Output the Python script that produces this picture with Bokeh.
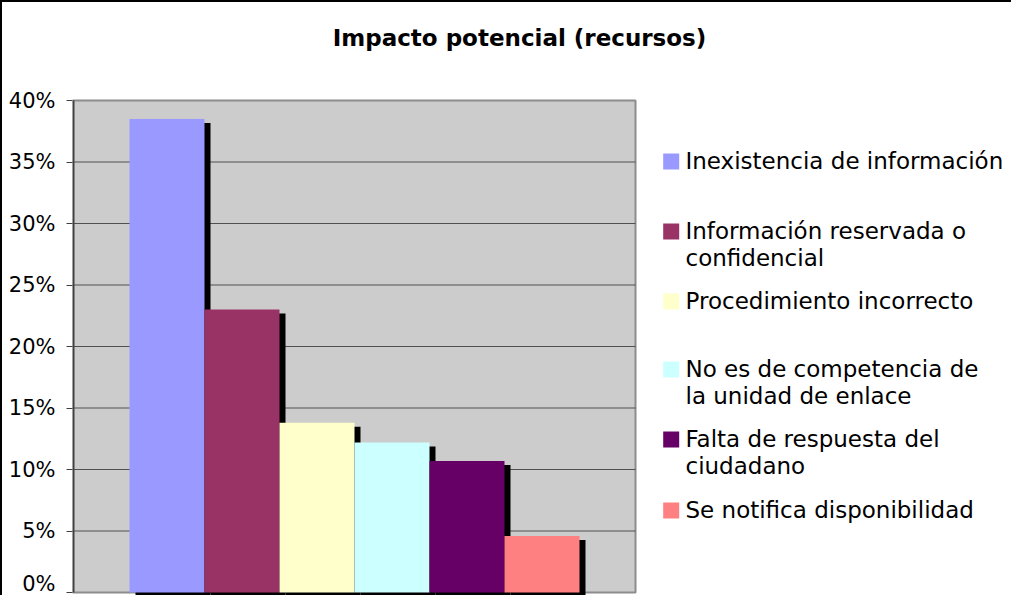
from bokeh.plotting import figure
from bokeh.models import Range1d, FixedTicker
from bokeh.core.properties import value
from bokeh.embed import file_html
from bokeh.resources import INLINE

# ---------------- data ----------------
title_text = "Impacto potencial (recursos)"
categories = [
    "Inexistencia de información",
    "Información reservada o\nconfidencial",
    "Procedimiento incorrecto",
    "No es de competencia de\nla unidad de enlace",
    "Falta de respuesta del\nciudadano",
    "Se notifica disponibilidad",
]
values = [38.5, 23.0, 13.8, 12.2, 10.7, 4.6]  # percent
colors = ["#9999FF", "#993366", "#FFFFCC", "#CCFFFF", "#660066", "#FF8080"]
y_ticks = [0, 5, 10, 15, 20, 25, 30, 35, 40]
y_tick_labels = ["0%", "5%", "10%", "15%", "20%", "25%", "30%", "35%", "40%"]

# ---------------- layout (screen px of the 1029x613 window) ----------------
W, H = 1011, 595            # canvas; it sits at (10,10) after 8px margin + 2px border
FRAME_L = 70                # frame starts at window x=80
PXU = 75.0                  # px per bar slot
PXY = 12.3                  # px per percent
ZERO_Y = 600                # window y of 0%
X_FRAME = 80                # window x of frame left
x0 = -0.5 - 57 / PXU
x1 = x0 + (W - FRAME_L) / PXU
y0 = -(10 + H - ZERO_Y) / PXY
y1 = (ZERO_Y - 10) / PXY
plot_right = x0 + 563 / PXU


def sx(X):
    return x0 + (X - X_FRAME) / PXU


def sy(Y):
    return (ZERO_Y - Y) / PXY


p = figure(width=W, height=H, x_range=Range1d(x0, x1), y_range=Range1d(y0, y1),
           output_backend="svg", toolbar_location=None,
           min_border_left=FRAME_L, min_border_top=0,
           min_border_right=0, min_border_bottom=0)
try:
    p.title = None
except Exception:
    p.title.visible = False
p.xaxis.visible = False
p.grid.visible = False
p.outline_line_color = None
p.background_fill_color = "white"
p.border_fill_color = "white"
p.styles = {"border-left": "2px solid #000000", "border-top": "2px solid #000000"}

yax = p.yaxis[0]
yax.ticker = FixedTicker(ticks=y_ticks)
yax.major_label_overrides = {t: l for t, l in zip(y_ticks, y_tick_labels)}
yax.axis_line_color = None
yax.major_tick_out = 6
yax.major_tick_in = 0
yax.major_tick_line_color = "#404040"
yax.minor_tick_line_color = None
yax.major_label_standoff = 11
yax.major_label_text_font = "DejaVu Sans"
yax.major_label_text_font_size = "21px"
yax.major_label_text_color = "#000000"

# plot area
p.quad(left=[x0], right=[plot_right], bottom=[0], top=[40],
       fill_color="#CCCCCC", line_color="#8C8C8C", line_width=2)
# gridlines
grid_y = y_ticks[1:-1]
p.segment(x0=[x0] * len(grid_y), x1=[plot_right] * len(grid_y), y0=grid_y, y1=grid_y,
          line_color="#505050", line_width=1)
# left axis line
p.segment(x0=[x0 + 1 / PXU], x1=[x0 + 1 / PXU], y0=[0], y1=[40],
          line_color="#404040", line_width=2)

idx = list(range(len(values)))
# shadows
p.quad(left=[i - 0.5 + 6 / PXU for i in idx], right=[i + 0.5 + 6 / PXU for i in idx],
       top=[v - 4 / PXY for v in values], bottom=[-2.5 / PXY] * len(values),
       fill_color="#000000", line_color=None)
# bars
p.quad(left=[i - 0.5 for i in idx], right=[i + 0.5 for i in idx],
       top=values, bottom=[0] * len(values), fill_color=colors, line_color=None)

# legend
leg_centers = [169, 239, 309, 377, 447, 518]  # window y of first line centres
p.scatter(x=[sx(678.7)] * len(categories), y=[sy(c) for c in leg_centers],
          marker="square", size=16, fill_color=colors, line_color=None)
p.text(x=[sx(693)] * len(categories), y=[sy(c - 14) for c in leg_centers],
       text=categories, text_font=value("DejaVu Sans"), text_font_size="23px",
       text_baseline="top", text_align="left", text_color="#000000",
       text_line_height=1.05)

# title
p.text(x=[sx(527)], y=[sy(45)], text=[title_text], text_font=value("DejaVu Sans"),
       text_font_style="bold", text_font_size="23px", text_align="center",
       text_baseline="middle", text_color="#000000")

open("out.html", "w").write(file_html(p, INLINE))
